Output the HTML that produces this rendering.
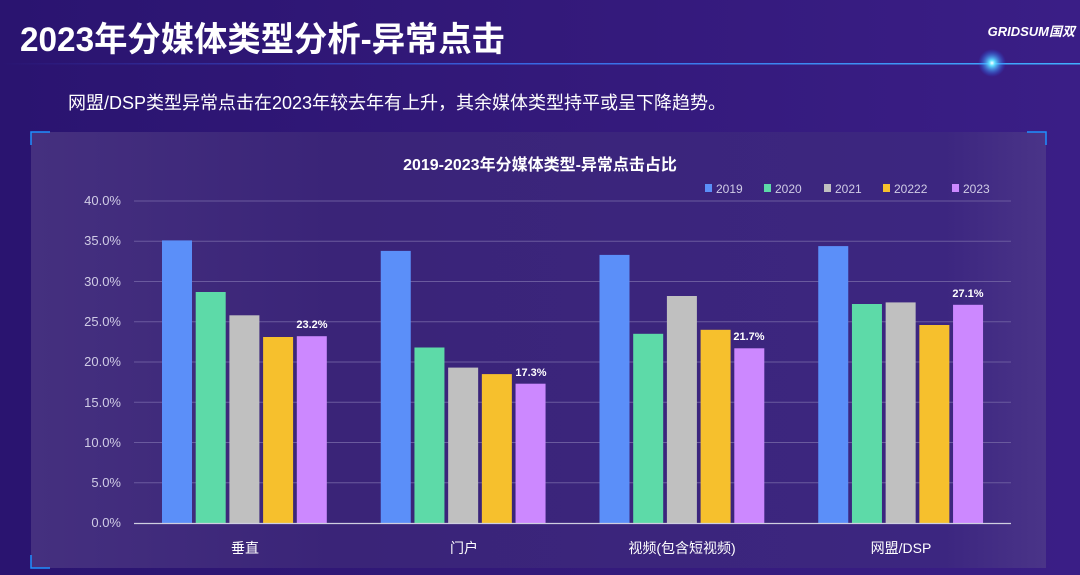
<!DOCTYPE html>
<html><head><meta charset="utf-8"><style>
body{margin:0;width:1080px;height:575px;overflow:hidden;background:linear-gradient(90deg,#2a1470 0%,#33197a 50%,#3a1e86 100%);font-family:"Liberation Sans","Noto Sans CJK SC",sans-serif;}
</style></head><body>
<svg width="1080" height="575" xmlns="http://www.w3.org/2000/svg" style="position:absolute;left:0;top:0">
<defs>
<linearGradient id="ln" x1="0" x2="1"><stop offset="0" stop-color="#3a5cff" stop-opacity="0"/><stop offset="0.5" stop-color="#3a7cff" stop-opacity="0.8"/><stop offset="1" stop-color="#40b0ff"/></linearGradient>
<radialGradient id="glow"><stop offset="0" stop-color="#ffffff"/><stop offset="0.2" stop-color="#60e0ff"/><stop offset="1" stop-color="#2060ff" stop-opacity="0"/></radialGradient>
<linearGradient id="pn" x1="0" x2="1"><stop offset="0" stop-color="#45307f"/><stop offset="0.3" stop-color="#3a2478"/><stop offset="0.9" stop-color="#3c2680"/><stop offset="1" stop-color="#4a3488"/></linearGradient>
</defs>
<rect x="0" y="63" width="1080" height="1.5" fill="url(#ln)"/>
<circle cx="992" cy="63" r="14" fill="url(#glow)"/>
<text x="20" y="51" font-size="34" font-weight="bold" fill="#fff" textLength="485" lengthAdjust="spacingAndGlyphs">2023年分媒体类型分析-异常点击</text>
<text x="1075" y="36" font-size="13" font-weight="bold" font-style="italic" fill="#fff" text-anchor="end">GRIDSUM国双</text>
<text x="68" y="109" font-size="18" fill="#fff">网盟/DSP类型异常点击在2023年较去年有上升，其余媒体类型持平或呈下降趋势。</text>
<rect x="31" y="132" width="1015" height="436" fill="url(#pn)"/>
<path d="M31 145V132H50M1027 132H1046V145M31 555V568H50" stroke="#1e8fff" stroke-width="1.5" fill="none"/>
<text x="540" y="170" font-size="16" font-weight="bold" fill="#fff" text-anchor="middle">2019-2023年分媒体类型-异常点击占比</text>
<g font-size="12" fill="#d0cce6">
<rect x="705" y="184" width="7" height="8" fill="#5b8ff9"/><text x="716" y="193">2019</text>
<rect x="764" y="184" width="7" height="8" fill="#5ddaa8"/><text x="775" y="193">2020</text>
<rect x="824" y="184" width="7" height="8" fill="#c0c0c0"/><text x="835" y="193">2021</text>
<rect x="883" y="184" width="7" height="8" fill="#f6c02d"/><text x="894" y="193">20222</text>
<rect x="952" y="184" width="7" height="8" fill="#cc88ff"/><text x="963" y="193">2023</text>
</g>
<g stroke="#6a5a9e" stroke-width="1">
<line x1="134" x2="1011" y1="201" y2="201"/><line x1="134" x2="1011" y1="241.25" y2="241.25"/><line x1="134" x2="1011" y1="281.5" y2="281.5"/><line x1="134" x2="1011" y1="321.75" y2="321.75"/><line x1="134" x2="1011" y1="362" y2="362"/><line x1="134" x2="1011" y1="402.25" y2="402.25"/><line x1="134" x2="1011" y1="442.5" y2="442.5"/><line x1="134" x2="1011" y1="482.75" y2="482.75"/>
</g>
<g font-size="13" fill="#d0cce6" text-anchor="end">
<text x="121" y="205">40.0%</text><text x="121" y="245">35.0%</text><text x="121" y="286">30.0%</text><text x="121" y="326">25.0%</text><text x="121" y="366">20.0%</text><text x="121" y="407">15.0%</text><text x="121" y="447">10.0%</text><text x="121" y="487">5.0%</text><text x="121" y="527">0.0%</text>
</g>
<g>
<rect x="162" y="240.4" width="30" height="282.6" fill="#5b8ff9"/>
<rect x="195.7" y="292" width="30" height="231" fill="#5ddaa8"/>
<rect x="229.4" y="315.3" width="30" height="207.7" fill="#c0c0c0"/>
<rect x="263.1" y="337" width="30" height="186" fill="#f6c02d"/>
<rect x="296.8" y="336.2" width="30" height="186.8" fill="#cc88ff"/>
<rect x="380.75" y="250.9" width="30" height="272.1" fill="#5b8ff9"/>
<rect x="414.45" y="347.5" width="30" height="175.5" fill="#5ddaa8"/>
<rect x="448.15" y="367.6" width="30" height="155.4" fill="#c0c0c0"/>
<rect x="481.85" y="374.1" width="30" height="148.9" fill="#f6c02d"/>
<rect x="515.55" y="383.7" width="30" height="139.3" fill="#cc88ff"/>
<rect x="599.5" y="254.9" width="30" height="268.1" fill="#5b8ff9"/>
<rect x="633.2" y="333.8" width="30" height="189.2" fill="#5ddaa8"/>
<rect x="666.9" y="296" width="30" height="227" fill="#c0c0c0"/>
<rect x="700.6" y="329.8" width="30" height="193.2" fill="#f6c02d"/>
<rect x="734.3" y="348.3" width="30" height="174.7" fill="#cc88ff"/>
<rect x="818.25" y="246.1" width="30" height="276.9" fill="#5b8ff9"/>
<rect x="851.95" y="304" width="30" height="219" fill="#5ddaa8"/>
<rect x="885.65" y="302.4" width="30" height="220.6" fill="#c0c0c0"/>
<rect x="919.35" y="325" width="30" height="198" fill="#f6c02d"/>
<rect x="953.05" y="304.8" width="30" height="218.2" fill="#cc88ff"/>
</g>
<line x1="134" x2="1011" y1="523.5" y2="523.5" stroke="#cfcfe0" stroke-width="1.2"/>
<g font-size="11" font-weight="bold" fill="#fff" text-anchor="middle">
<text x="312" y="328">23.2%</text><text x="531" y="376">17.3%</text><text x="749" y="340">21.7%</text><text x="968" y="297">27.1%</text>
</g>
<g font-size="14" fill="#fff" text-anchor="middle">
<text x="245" y="553">垂直</text><text x="464" y="553">门户</text><text x="682" y="553">视频(包含短视频)</text><text x="901" y="553">网盟/DSP</text>
</g>
</svg>
</body></html>
